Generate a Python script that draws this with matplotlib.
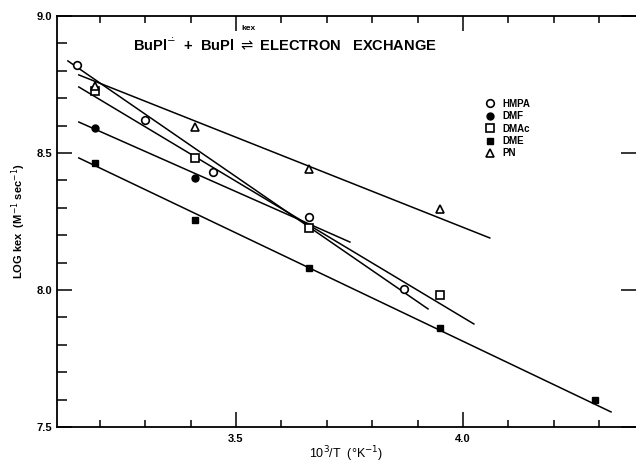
import numpy as np
import matplotlib
matplotlib.use("Agg")
import matplotlib.pyplot as plt
from matplotlib.ticker import MultipleLocator

plt.rcParams['font.family'] = ['Liberation Sans', 'DejaVu Sans']

# donnees (10^3/T, log kex)
x_hmpa = [3.15, 3.30, 3.45, 3.66, 3.87]
y_hmpa = [8.82, 8.62, 8.43, 8.265, 8.005]

x_dmf = [3.19, 3.41]
y_dmf = [8.59, 8.41]

x_dmac = [3.19, 3.41, 3.66, 3.95]
y_dmac = [8.725, 8.48, 8.225, 7.98]

x_dme = [3.19, 3.41, 3.66, 3.95, 4.29]
y_dme = [8.465, 8.255, 8.08, 7.86, 7.60]

x_pn = [3.19, 3.41, 3.66, 3.95]
y_pn = [8.745, 8.595, 8.44, 8.295]

# droites tracees : points de debut et de fin
fit_hmpa = ((3.130, 8.836), (3.923, 7.931))
fit_dmf = ((3.154, 8.613), (3.751, 8.175))
fit_dmac = ((3.154, 8.741), (4.024, 7.876))
fit_dme = ((3.154, 8.482), (4.326, 7.555))
fit_pn = ((3.154, 8.785), (4.059, 8.190))

fig = plt.figure(figsize=(6.36, 4.65), dpi=100)
ax = fig.add_axes([57/636, 38/465, 579/636, 411/465])

for (p0, p1) in [fit_hmpa, fit_dmf, fit_dmac, fit_dme, fit_pn]:
    ax.plot([p0[0], p1[0]], [p0[1], p1[1]], color='black', lw=1.1)

ax.plot(x_hmpa, y_hmpa, 'o', ms=5.5, mfc='white', mec='black', mew=1.2, label='HMPA')
ax.plot(x_dmf, y_dmf, 'o', ms=5, mfc='black', mec='black', label='DMF')
ax.plot(x_dmac, y_dmac, 's', ms=5.5, mfc='white', mec='black', mew=1.2, label='DMAc')
ax.plot(x_dme, y_dme, 's', ms=5, mfc='black', mec='black', label='DME')
ax.plot(x_pn, y_pn, '^', ms=6, mfc='white', mec='black', mew=1.2, label='PN')

ax.set_xlim(3.106, 4.381)
ax.set_ylim(7.5, 9.0)

ax.spines['right'].set_visible(False)
for s in ['left', 'bottom', 'top']:
    ax.spines[s].set_linewidth(1.3)

ax.xaxis.set_major_locator(MultipleLocator(0.5))
ax.xaxis.set_minor_locator(MultipleLocator(0.1))
ax.yaxis.set_major_locator(MultipleLocator(0.5))
ax.yaxis.set_minor_locator(MultipleLocator(0.1))
ax.tick_params(which='both', direction='in', top=True, right=True, width=1.1)
ax.tick_params(which='major', length=11, labelsize=8)
ax.tick_params(which='minor', length=5, right=False)
ax.tick_params(axis='y', which='minor', length=7)
ax.tick_params(axis='x', which='major', pad=5)
ax.set_yticks([7.5, 8.0, 8.5, 9.0])
ax.set_yticklabels(['7.5', '8.0', '8.5', '9.0'], fontweight='bold')
ax.set_xticks([3.5, 4.0])
ax.set_xticklabels(['3.5', '4.0'], fontweight='bold')

ax.set_xlabel(r'10$^3$/T  (°K$^{-1}$)', fontsize=9, labelpad=0)
ax.set_ylabel(r'LOG kex  (M$^{-1}$ sec$^{-1}$)', fontsize=8, fontweight='bold', labelpad=6)

fig.text(133/636, 1 - 45/465,
         r'BuPl$^{\dot{-}}$  +  BuPl $\rightleftharpoons$ ELECTRON   EXCHANGE',
         fontsize=10.5, fontweight='bold', va='center', ha='left')
fig.text(248/636, 1 - 29/465, 'kex', fontsize=6, fontweight='bold', va='center', ha='center')

ax.legend(loc='upper left', bbox_to_anchor=((476-57)/579, (427-90)/411), frameon=False,
          handlelength=1, handletextpad=0.8, labelspacing=0.25,
          prop={'weight': 'bold', 'size': 7})

fig.savefig('out.png', dpi=100)
